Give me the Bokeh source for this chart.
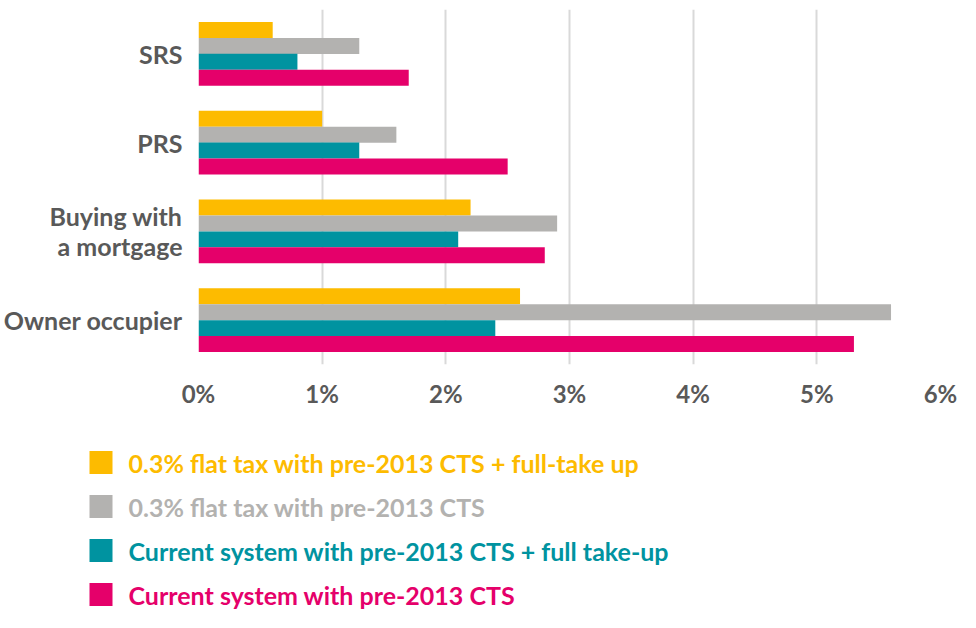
from bokeh.plotting import figure
from bokeh.models import FactorRange, Range1d, FixedTicker, PrintfTickFormatter, ColumnDataSource
from bokeh.transform import dodge
from bokeh.layouts import column
from bokeh.core.properties import value
from bokeh.embed import file_html
from bokeh.resources import INLINE

categories = ["Owner occupier", "Buying with\na mortgage", "PRS", "SRS"]
series_names = [
    "0.3% flat tax with pre-2013 CTS + full-take up",
    "0.3% flat tax with pre-2013 CTS",
    "Current system with pre-2013 CTS + full take-up",
    "Current system with pre-2013 CTS",
]
flat_full = [2.6, 2.2, 1.0, 0.6]
flat = [5.6, 2.9, 1.6, 1.3]
current_full = [2.4, 2.1, 1.3, 0.8]
current = [5.3, 2.8, 2.5, 1.7]
x_ticks = [0, 1, 2, 3, 4, 5, 6]

colors = ["#FDBB00", "#B3B2B0", "#0093A0", "#E5006A"]
FONT = "Lato"
TXT = "#595959"

W = 960
H1, H2 = 436, 176
FL, FR, FT, FB = 198, 940, 9, 364

src = ColumnDataSource(dict(cat=categories, s0=flat_full, s1=flat, s2=current_full, s3=current))

p = figure(width=W, height=H1, y_range=FactorRange(*categories), x_range=Range1d(0, 6),
           output_backend="svg", toolbar_location=None,
           min_border_left=FL, min_border_right=W - FR, min_border_top=FT,
           min_border_bottom=H1 - FB)
offsets = [0.27, 0.09, -0.09, -0.27]
for i, off in enumerate(offsets):
    p.hbar(y=dodge("cat", off, range=p.y_range), right="s%d" % i, left=0, height=0.18,
           source=src, color=colors[i], line_color=None)

p.outline_line_color = None
p.ygrid.grid_line_color = None
p.xgrid.grid_line_color = "#D9D9D9"
p.xgrid.grid_line_width = 2
p.xaxis.ticker = FixedTicker(ticks=x_ticks)
p.xaxis.formatter = PrintfTickFormatter(format="%d%%")
for ax in (p.xaxis[0], p.yaxis[0]):
    ax.axis_line_color = None
    ax.major_tick_line_color = None
    ax.minor_tick_line_color = None
    ax.major_label_text_font = FONT
    ax.major_label_text_font_style = "bold"
    ax.major_label_text_font_size = "24px"
    ax.major_label_text_color = TXT
p.yaxis.major_label_text_font_size = "25px"
p.yaxis.major_label_text_line_height = 1.0
p.xaxis.major_label_standoff = 8
p.yaxis.major_label_standoff = 10

# legend figure (data coordinates == pixels)
lg = figure(frame_width=W, frame_height=H2, x_range=Range1d(0, W), y_range=Range1d(H2, 0),
            output_backend="svg", toolbar_location=None, min_border=0,
            x_axis_type=None, y_axis_type=None)
for fig in (p, lg):
    try:
        fig.frame_align = False
    except Exception:
        pass
lg.grid.visible = False
lg.outline_line_color = None
row_y = [26, 70, 114, 158]
lsrc = ColumnDataSource(dict(y=row_y, name=series_names, color=colors))
lg.rect(x=100.5, y="y", width=23, height=23, source=lsrc, color="color", line_color=None)
lg.text(x=128, y="y", text="name", source=lsrc, text_color="color", text_font=value(FONT),
        text_font_style="bold", text_font_size="25px", text_baseline="middle")

layout = column(p, lg, spacing=0)
open("out.html", "w").write(file_html(layout, INLINE))
